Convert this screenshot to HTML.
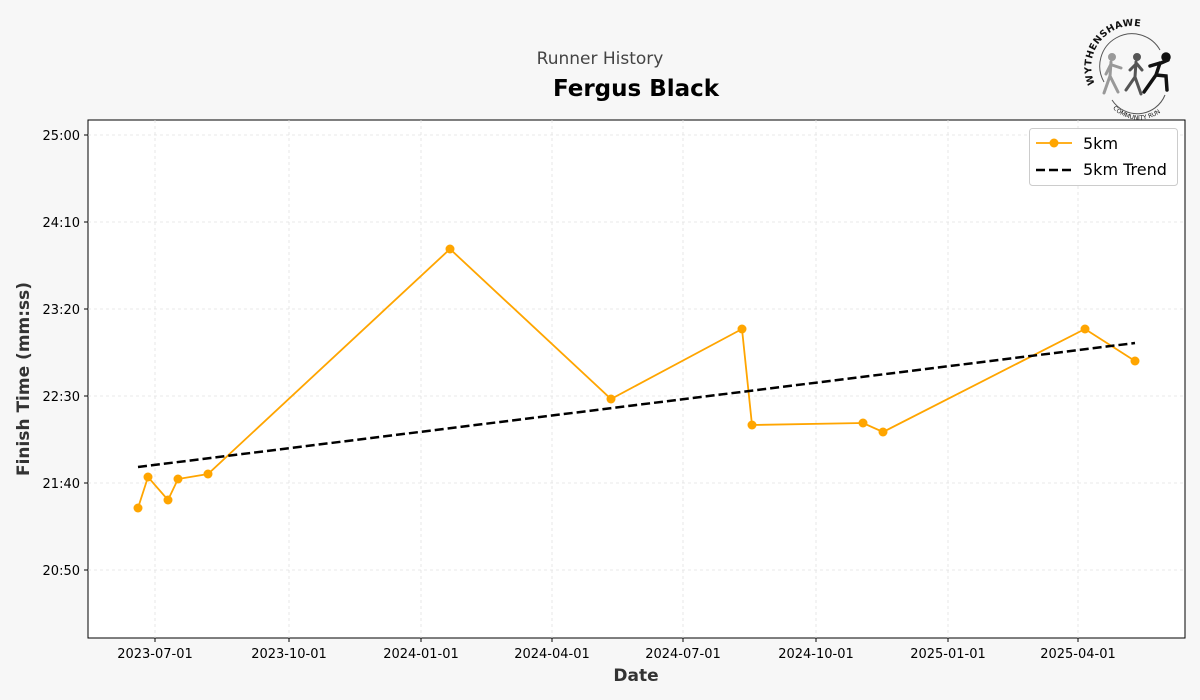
<!DOCTYPE html>
<html><head><meta charset="utf-8"><style>
html,body{margin:0;padding:0;background:#f7f7f7;overflow:hidden;width:1200px;height:700px;}
svg{display:block;}
svg text{font-family:"DejaVu Sans","Liberation Sans",sans-serif;}
</style></head><body>
<svg width="1200" height="700" xmlns="http://www.w3.org/2000/svg">
<rect width="1200" height="700" fill="#f7f7f7"/>
<text x="600" y="64" text-anchor="middle" font-size="17" fill="#444">Runner History</text>
<text x="636" y="96" text-anchor="middle" font-size="23" font-weight="bold" fill="#000">Fergus Black</text>
<g>
<defs><path id="arcT" d="M1095,84 A40,40 0 0 1 1170,50"/><path id="arcB" d="M1108,102 A36,36 0 0 0 1172,98"/></defs>
<text font-size="9.5" font-weight="bold" fill="#111" letter-spacing="0.5"><textPath href="#arcT">WYTHENSHAWE</textPath></text>
<text font-size="6" fill="#111"><textPath href="#arcB" startOffset="8">COMMUNITY RUN</textPath></text>
<path d="M1104,82 A32,32 0 0 1 1160,50" fill="none" stroke="#555" stroke-width="1"/>
<path d="M1112,100 A30,30 0 0 0 1165,95" fill="none" stroke="#555" stroke-width="1"/>
<g stroke-linecap="round" fill="none">
<g stroke="#999" stroke-width="3"><circle cx="1112" cy="57" r="2.5" fill="#999"/><path d="M1111,62 L1110,76 L1104,93 M1110,76 L1118,92 M1111,64 L1106,74 M1112,65 L1121,68"/></g>
<g stroke="#555" stroke-width="3"><circle cx="1137" cy="57" r="2.5" fill="#555"/><path d="M1136,62 L1135,77 L1126,90 M1135,77 L1141,94 M1136,64 L1130,70 M1137,64 L1142,70"/></g>
<g stroke="#111" stroke-width="3.5"><circle cx="1166" cy="57" r="3" fill="#111"/><path d="M1160,63 L1156,75 L1144,92 M1156,75 L1166,76 L1167,90 M1160,63 L1150,66 M1161,63 L1168,60"/></g>
</g>
</g>
<rect x="88" y="120" width="1097" height="518" fill="#fff" stroke="#000" stroke-width="1"/>
<g stroke="#e2e2e2" stroke-width="0.8" stroke-dasharray="3,3">
<line x1="88" x2="1185" y1="135" y2="135"/><line x1="88" x2="1185" y1="222" y2="222"/><line x1="88" x2="1185" y1="309" y2="309"/><line x1="88" x2="1185" y1="396" y2="396"/><line x1="88" x2="1185" y1="483" y2="483"/><line x1="88" x2="1185" y1="570" y2="570"/>
<line y1="120" y2="638" x1="155" x2="155"/><line y1="120" y2="638" x1="289" x2="289"/><line y1="120" y2="638" x1="421" x2="421"/><line y1="120" y2="638" x1="552" x2="552"/><line y1="120" y2="638" x1="683" x2="683"/><line y1="120" y2="638" x1="816" x2="816"/><line y1="120" y2="638" x1="948" x2="948"/><line y1="120" y2="638" x1="1078" x2="1078"/>
</g>
<g stroke="#000" stroke-width="1">
<line x1="84" x2="88" y1="135" y2="135"/><line x1="84" x2="88" y1="222" y2="222"/><line x1="84" x2="88" y1="309" y2="309"/><line x1="84" x2="88" y1="396" y2="396"/><line x1="84" x2="88" y1="483" y2="483"/><line x1="84" x2="88" y1="570" y2="570"/>
<line y1="638" y2="642" x1="155" x2="155"/><line y1="638" y2="642" x1="289" x2="289"/><line y1="638" y2="642" x1="421" x2="421"/><line y1="638" y2="642" x1="552" x2="552"/><line y1="638" y2="642" x1="683" x2="683"/><line y1="638" y2="642" x1="816" x2="816"/><line y1="638" y2="642" x1="948" x2="948"/><line y1="638" y2="642" x1="1078" x2="1078"/>
</g>
<g font-size="13" fill="#000" text-anchor="end">
<text x="80" y="140">25:00</text><text x="80" y="227">24:10</text><text x="80" y="314">23:20</text><text x="80" y="401">22:30</text><text x="80" y="488">21:40</text><text x="80" y="575">20:50</text>
</g>
<g font-size="13" fill="#000" text-anchor="middle">
<text x="155" y="658">2023-07-01</text><text x="289" y="658">2023-10-01</text><text x="421" y="658">2024-01-01</text><text x="552" y="658">2024-04-01</text><text x="683" y="658">2024-07-01</text><text x="816" y="658">2024-10-01</text><text x="948" y="658">2025-01-01</text><text x="1078" y="658">2025-04-01</text>
</g>
<text x="636" y="681" text-anchor="middle" font-size="17" font-weight="bold" fill="#333">Date</text>
<text transform="translate(29,379) rotate(-90)" text-anchor="middle" font-size="17" font-weight="bold" fill="#333">Finish Time (mm:ss)</text>
<polyline fill="none" stroke="#ffa500" stroke-width="1.8" points="138,508 148,477 168,500 178,479 208,474 450,249 611,399 742,329 752,425 863,423 883,432 1085,329 1135,361"/>
<g fill="#ffa500">
<circle cx="138" cy="508" r="4.5"/><circle cx="148" cy="477" r="4.5"/><circle cx="168" cy="500" r="4.5"/><circle cx="178" cy="479" r="4.5"/><circle cx="208" cy="474" r="4.5"/><circle cx="450" cy="249" r="4.5"/><circle cx="611" cy="399" r="4.5"/><circle cx="742" cy="329" r="4.5"/><circle cx="752" cy="425" r="4.5"/><circle cx="863" cy="423" r="4.5"/><circle cx="883" cy="432" r="4.5"/><circle cx="1085" cy="329" r="4.5"/><circle cx="1135" cy="361" r="4.5"/>
</g>
<line x1="138" y1="467" x2="1135" y2="343" stroke="#000" stroke-width="2.5" stroke-dasharray="9,4"/>
<rect x="1029.5" y="128.5" width="148" height="57" rx="3" fill="#fff" stroke="#ccc"/>
<line x1="1036" x2="1072" y1="143" y2="143" stroke="#ffa500" stroke-width="1.8"/><circle cx="1054" cy="143" r="4.5" fill="#ffa500"/>
<text x="1083" y="149" font-size="16" fill="#000">5km</text>
<line x1="1036" x2="1072" y1="170" y2="170" stroke="#000" stroke-width="2.5" stroke-dasharray="9,4"/>
<text x="1083" y="175" font-size="16" fill="#000">5km Trend</text>
</svg>
</body></html>
